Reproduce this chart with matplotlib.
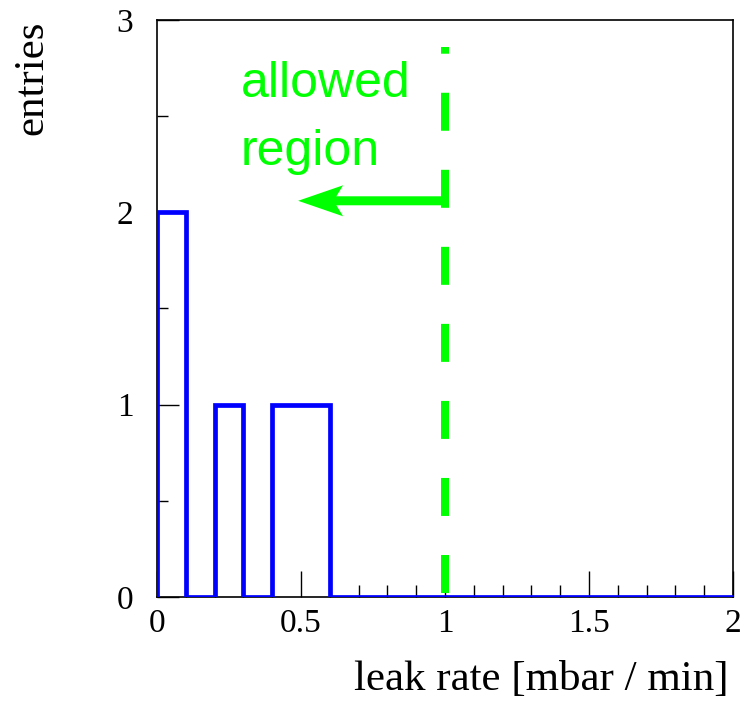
import matplotlib
matplotlib.use("Agg")
import matplotlib.pyplot as plt
from matplotlib.patches import FancyArrow
from matplotlib.ticker import MultipleLocator
import numpy as np

# leak rate histogram, 0.1 mbar/min bins
bin_edges = np.round(np.arange(0.0, 2.01, 0.1), 2)
counts = [2, 0, 1, 0, 1, 1, 0, 0, 0, 0,
          0, 0, 0, 0, 0, 0, 0, 0, 0, 0]
leak_limit = 1.0

fig = plt.figure(figsize=(7.43, 7.02), dpi=100)
ax = fig.add_axes([0.2113, 0.1496, 0.7752, 0.8219])

ax.stairs(counts, bin_edges, color=(0, 0, 1), lw=3.4, baseline=0, zorder=3)

# limit line and arrow pointing to the allowed side
ax.plot([leak_limit, leak_limit], [0.02, 2.86], color=(0, 1, 0), lw=5.76,
        dashes=(4.75, 4.88), solid_capstyle='butt', dash_capstyle='butt', zorder=2)
ax.add_patch(FancyArrow(leak_limit + 0.01, 2.06, -0.52, 0,
                        width=9 / 192.3, head_width=31 / 192.3, head_length=45 / 288,
                        overhang=0.15, length_includes_head=True,
                        color=(0, 1, 0), lw=0, zorder=2))
ax.text(0.29, 2.60, "allowed", color=(0, 1, 0), fontsize=36,
        family="Liberation Sans", ha='left', va='baseline')
ax.text(0.29, 2.245, "region", color=(0, 1, 0), fontsize=36,
        family="Liberation Sans", ha='left', va='baseline')

ax.set_xlim(0, 2)
ax.set_ylim(0, 3)
ax.xaxis.set_major_locator(MultipleLocator(0.5))
ax.xaxis.set_minor_locator(MultipleLocator(0.1))
ax.yaxis.set_major_locator(MultipleLocator(1))
ax.yaxis.set_minor_locator(MultipleLocator(0.5))
ax.xaxis.set_major_formatter(lambda v, p: "{:g}".format(v))
ax.tick_params(which='both', direction='in', top=False, right=False, width=1)
ax.tick_params(axis='x', which='major', length=19, pad=8)
ax.tick_params(axis='x', which='minor', length=9)
ax.tick_params(axis='y', which='major', length=16, pad=17)
ax.tick_params(axis='y', which='minor', length=8)
for lab in ax.get_xticklabels() + ax.get_yticklabels():
    lab.set_family("Liberation Serif")
    lab.set_fontsize(24)
for s in ax.spines.values():
    s.set_linewidth(1.2)

fig.text(729 / 743, 1 - 690 / 702, "leak rate [mbar / min]", ha='right', va='baseline',
         family="Liberation Serif", fontsize=31)
fig.text(32 / 743, 1 - 21 / 702, "entries", rotation=90, ha='center', va='top',
         family="Liberation Serif", fontsize=31)

fig.savefig("out.png", dpi=100)
